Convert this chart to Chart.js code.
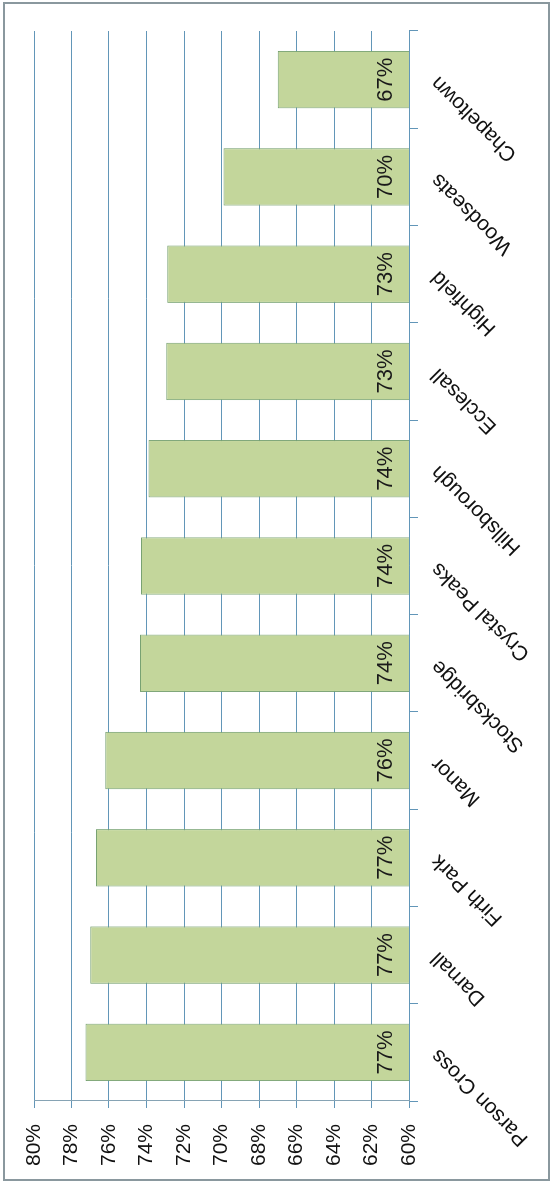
<!DOCTYPE html>
<html>
<head>
<meta charset="utf-8">
<script src="https://cdn.jsdelivr.net/npm/chart.js@4.4.1/dist/chart.umd.min.js"></script>
<style>
  html, body { margin: 0; padding: 0; background: #ffffff; overflow: hidden; width: 551px; height: 1183px; }
  #wrap {
    position: absolute; left: 0; top: 0;
    width: 1183px; height: 551px;
    transform-origin: 0 0;
    transform: translateY(1183px) rotate(-90deg);
  }
  canvas { display: block; }
</style>
</head>
<body>
<div id="wrap"><canvas id="c" width="1183" height="551"></canvas></div>
<script>
const categories = ['Parson Cross', 'Darnall', 'Firth Park', 'Manor', 'Stocksbridge', 'Crystal Peaks', 'Hillsborough', 'Ecclesall', 'Highfield', 'Woodseats', 'Chapeltown'];
const values = [77.25, 77.0, 76.7, 76.2, 74.35, 74.3, 73.9, 72.95, 72.9, 69.9, 67.0];
const axisMin = 60;
const axisMax = 80;
const axisStep = 2;

const FONT = "'Liberation Sans', Arial, sans-serif";
const gridColor = '#6296b8';

const framePlugin = {
  id: 'frame',
  beforeDraw(chart) {
    const ctx = chart.ctx;
    ctx.save();
    ctx.fillStyle = '#ffffff';
    ctx.fillRect(0, 0, chart.width, chart.height);
    ctx.strokeStyle = '#8a989e';
    ctx.lineWidth = 2;
    ctx.strokeRect(3, 4, 1177, 545);
    ctx.restore();
  }
};

const labelPlugin = {
  id: 'barLabels',
  afterDatasetsDraw(chart) {
    const ctx = chart.ctx;
    const meta = chart.getDatasetMeta(0);
    const basePx = chart.scales.y.getPixelForValue(axisMin);
    ctx.save();
    ctx.font = '22px ' + FONT;
    ctx.fillStyle = '#1a1a1a';
    ctx.textAlign = 'center';
    ctx.textBaseline = 'alphabetic';
    meta.data.forEach((bar, i) => {
      const v = chart.data.datasets[0].data[i];
      ctx.fillText(Math.round(v) + '%', bar.x, basePx - 17);
    });
    ctx.restore();
  }
};

new Chart(document.getElementById('c'), {
  type: 'bar',
  data: {
    labels: categories,
    datasets: [{
      data: values,
      backgroundColor: '#c3d69b',
      borderColor: '#78a272',
      borderWidth: 1,
      borderSkipped: false,
      barPercentage: 0.59,
      categoryPercentage: 1.0
    }]
  },
  options: {
    responsive: false,
    animation: false,
    devicePixelRatio: 1,
    layout: { padding: { top: 34, right: 31, left: 0, bottom: 0 } },
    plugins: { legend: { display: false }, tooltip: { enabled: false } },
    scales: {
      x: {
        offset: true,
        grid: { display: true, drawOnChartArea: false, drawTicks: true, tickLength: 9, color: gridColor, offset: true },
        border: { display: true, color: gridColor, width: 1 },
        ticks: { minRotation: 45, maxRotation: 45, autoSkip: false, padding: 8, color: '#111111', font: { family: FONT, size: 21 } },
        afterFit(scale) { scale.height = 142; }
      },
      y: {
        min: axisMin, max: axisMax,
        grid: { color: gridColor, tickLength: 7, drawTicks: true },
        border: { display: true, color: '#86a3b4', width: 1 },
        ticks: { stepSize: axisStep, padding: 16, color: '#111111', font: { family: FONT, size: 21 }, callback: v => v + '%' },
        afterFit(scale) { scale.width = 82; }
      }
    }
  },
  plugins: [framePlugin, labelPlugin]
});
</script>
</body>
</html>
